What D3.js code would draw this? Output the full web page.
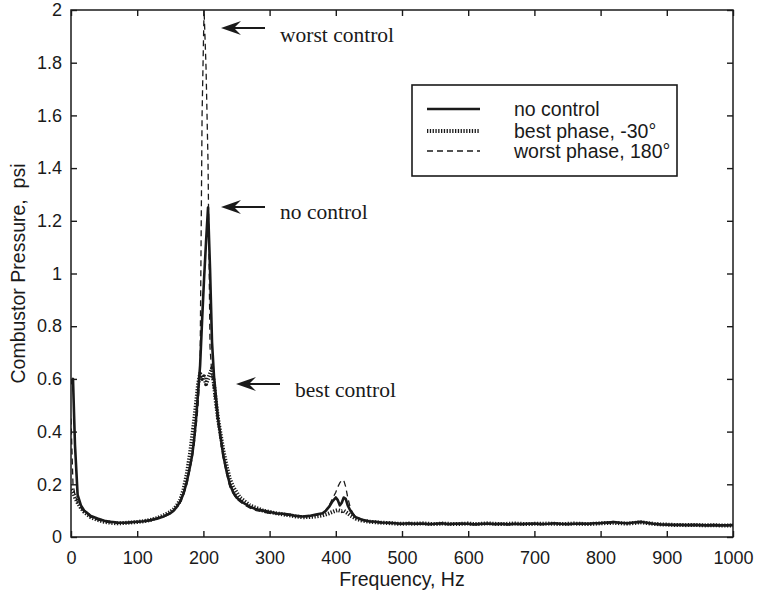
<!DOCTYPE html>
<html><head><meta charset="utf-8">
<script src="https://cdn.jsdelivr.net/npm/d3@7"></script>
<style>body{margin:0;background:#fff}svg{display:block}</style>
</head><body>
<svg id="c" width="757" height="596"></svg>
<script>
const frequency = [
  0,3,6,10,15,20,25,30,40,50,60,70,80,90,100,110,120,130,140,150,
  155,160,165,170,175,180,183,186,189,192,195,198,201,204,207,210,213,216,219,222,226,230,235,240,245,250,
  255,260,270,280,290,300,310,320,330,340,350,360,370,380,385,390,395,400,403,406,409,412,415,418,422,426,430,435,440,450,460,470,480,490,500,
  510,520,530,540,550,560,570,580,590,600,
  610,620,630,640,650,660,670,680,690,700,
  710,720,730,740,750,760,770,780,790,800,
  810,820,830,840,850,860,870,880,890,900,
  910,920,930,940,950,960,970,980,990,1000
];
const noControl = [
  0.58,0.60,0.35,0.16,0.12,0.10,0.09,0.08,0.07,0.062,0.058,0.055,0.054,0.056,0.058,0.06,0.064,0.07,0.078,0.09,
  0.10,0.115,0.135,0.165,0.21,0.27,0.31,0.37,0.45,0.55,0.65,0.82,0.98,1.12,1.25,1.02,0.74,0.61,0.53,0.45,0.38,0.31,0.25,0.20,0.17,0.15,
  0.14,0.13,0.115,0.105,0.10,0.095,0.09,0.088,0.085,0.08,0.078,0.08,0.085,0.09,0.10,0.115,0.135,0.15,0.14,0.12,0.13,0.15,0.145,0.12,0.10,0.085,0.075,0.07,0.065,0.06,0.058,0.055,0.054,0.052,0.05,
  0.052,0.050,0.051,0.049,0.050,0.052,0.049,0.050,0.051,0.050,
  0.048,0.050,0.051,0.049,0.050,0.048,0.050,0.049,0.050,0.051,
  0.049,0.050,0.052,0.050,0.049,0.050,0.051,0.050,0.052,0.053,
  0.055,0.057,0.054,0.052,0.055,0.058,0.054,0.050,0.048,0.047,
  0.046,0.046,0.045,0.046,0.045,0.044,0.045,0.044,0.044,0.045
];
const bestPhase = [
  0.18,0.17,0.15,0.13,0.11,0.095,0.085,0.075,0.065,0.058,0.054,0.052,0.053,0.055,0.057,0.06,0.065,0.072,0.082,0.095,
  0.105,0.12,0.14,0.18,0.24,0.32,0.38,0.44,0.51,0.58,0.62,0.60,0.61,0.58,0.60,0.62,0.64,0.58,0.51,0.45,0.39,0.33,0.27,0.22,0.19,0.17,
  0.15,0.14,0.12,0.11,0.10,0.095,0.09,0.086,0.082,0.078,0.075,0.076,0.078,0.082,0.086,0.09,0.095,0.10,0.102,0.10,0.098,0.10,0.095,0.09,0.082,0.076,0.07,0.066,0.062,0.058,0.056,0.054,0.053,0.051,0.05,
  0.051,0.050,0.052,0.050,0.049,0.051,0.050,0.049,0.050,0.051,
  0.049,0.050,0.052,0.050,0.049,0.050,0.051,0.050,0.049,0.050,
  0.050,0.051,0.050,0.049,0.050,0.051,0.050,0.049,0.050,0.052,
  0.053,0.054,0.052,0.051,0.053,0.056,0.053,0.050,0.048,0.047,
  0.046,0.046,0.045,0.046,0.045,0.044,0.045,0.044,0.044,0.044
];
const worstPhase = [
  0.45,0.20,0.16,0.13,0.11,0.095,0.085,0.075,0.065,0.058,0.054,0.052,0.052,0.054,0.056,0.058,0.062,0.068,0.076,0.088,
  0.10,0.115,0.13,0.16,0.20,0.26,0.30,0.35,0.42,0.50,0.64,1.60,2.00,1.78,1.42,0.72,0.61,0.55,0.49,0.43,0.36,0.30,0.24,0.19,0.165,0.145,
  0.135,0.125,0.11,0.10,0.095,0.09,0.088,0.085,0.082,0.078,0.076,0.078,0.082,0.09,0.10,0.12,0.145,0.17,0.19,0.205,0.215,0.215,0.19,0.15,0.11,0.09,0.078,0.07,0.064,0.058,0.055,0.053,0.052,0.05,0.049,
  0.050,0.049,0.050,0.048,0.049,0.050,0.048,0.049,0.050,0.048,
  0.047,0.049,0.050,0.048,0.049,0.047,0.049,0.048,0.049,0.050,
  0.048,0.049,0.050,0.049,0.048,0.049,0.050,0.049,0.050,0.051,
  0.052,0.054,0.052,0.050,0.053,0.055,0.052,0.049,0.047,0.046,
  0.045,0.045,0.044,0.045,0.044,0.043,0.044,0.043,0.043,0.044
];
const xTicks = [0,100,200,300,400,500,600,700,800,900,1000];
const yTicks = [0,0.2,0.4,0.6,0.8,1,1.2,1.4,1.6,1.8,2];
const seriesNames = ["no control","best phase, -30\u00b0","worst phase, 180\u00b0"];
const annotations = [
  {text:"worst control", value:1.95},
  {text:"no control", value:1.25},
  {text:"best control", value:0.6}
];

const svg = d3.select("#c");
const L = 71, R = 733, T = 10, B = 537;
const x = d3.scaleLinear().domain([0,1000]).range([L,R]);
const y = d3.scaleLinear().domain([0,2]).range([B,T]);
const ink = "#1a1a1a";
const sans = "'Liberation Sans', Arial, Helvetica, sans-serif";
const serif = "'Liberation Serif', 'Times New Roman', serif";

svg.append("defs").append("clipPath").attr("id","clip")
  .append("rect").attr("x",L).attr("y",T).attr("width",R-L).attr("height",B-T);

const styles = [
  {w:2.6, dash:null},
  {w:4, dash:"1.3,1.5"},
  {w:1.3, dash:"6,4"}
];
const data = [noControl, bestPhase, worstPhase];
const line = d3.line().x(d=>x(d[0])).y(d=>y(d[1]));
const g = svg.append("g").attr("clip-path","url(#clip)");
[1,2,0].forEach(i=>{
  g.append("path")
    .datum(frequency.map((f,k)=>[f,data[i][k]]))
    .attr("d",line).attr("fill","none").attr("stroke",ink)
    .attr("stroke-width",styles[i].w)
    .attr("stroke-linejoin","round")
    .attr("stroke-dasharray",styles[i].dash);
});

// axes (box with inward ticks)
const tl = 6;
const axB = svg.append("g").attr("transform",`translate(0,${B})`)
  .call(d3.axisBottom(x).tickValues(xTicks).tickSize(-tl).tickPadding(14).tickFormat(d3.format("d")));
const axT = svg.append("g").attr("transform",`translate(0,${T})`)
  .call(d3.axisTop(x).tickValues(xTicks).tickSize(-tl).tickFormat(""));
const axL = svg.append("g").attr("transform",`translate(${L},0)`)
  .call(d3.axisLeft(y).tickValues(yTicks).tickSize(-tl).tickPadding(9).tickFormat(d=>d3.format("~g")(d)));
const axR = svg.append("g").attr("transform",`translate(${R},0)`)
  .call(d3.axisRight(y).tickValues(yTicks).tickSize(-tl).tickFormat(""));
[axB,axT,axL,axR].forEach(a=>{
  a.selectAll("path,line").attr("stroke",ink).attr("stroke-width",1.4);
  a.select(".domain").attr("d", null);
  a.selectAll("text").attr("fill",ink).style("font-family",sans).style("font-size","18px");
});
svg.append("rect").attr("x",L).attr("y",T).attr("width",R-L).attr("height",B-T)
  .attr("fill","none").attr("stroke",ink).attr("stroke-width",1.5);

// axis labels
svg.append("text").attr("x",(L+R)/2).attr("y",586).attr("text-anchor","middle")
  .style("font-family",sans).style("font-size","19.5px").attr("fill",ink).text("Frequency, Hz");
svg.append("text").attr("transform",`translate(25,${(T+B)/2}) rotate(-90)`).attr("text-anchor","middle")
  .style("font-family",sans).style("font-size","19.5px").attr("fill",ink)
  .attr("xml:space","preserve").style("white-space","pre").text("Combustor Pressure,  psi");

// legend
const lg = svg.append("g");
lg.append("rect").attr("x",412).attr("y",85).attr("width",265).attr("height",91)
  .attr("fill","#fff").attr("stroke",ink).attr("stroke-width",1.6);
const rowY = [109,131,151];
seriesNames.forEach((n,i)=>{
  lg.append("line").attr("x1",427).attr("x2",480).attr("y1",rowY[i]).attr("y2",rowY[i])
    .attr("stroke",ink).attr("stroke-width",i===1?4:styles[i].w).attr("stroke-dasharray",styles[i].dash);
  lg.append("text").attr("x",514).attr("y",rowY[i]+7).style("font-family",sans).style("font-size","19.5px")
    .attr("fill",ink).text(n);
});

// annotations with arrows
const annX = [[221,265,280],[221,265,280],[236,280,295]];
const annY = [28,207,384];
const annBase = [42,219,397];
annotations.forEach((a,i)=>{
  const tip = annX[i][0], tail = annX[i][1], yy = annY[i];
  svg.append("line").attr("x1",tip+10).attr("x2",tail).attr("y1",yy).attr("y2",yy)
    .attr("stroke",ink).attr("stroke-width",2);
  svg.append("path").attr("d",`M${tip},${yy} L${tip+20},${yy-7} L${tip+13},${yy} L${tip+20},${yy+7} Z`)
    .attr("fill",ink);
  svg.append("text").attr("x",annX[i][2]).attr("y",annBase[i])
    .style("font-family",serif).style("font-size","21.5px").attr("fill",ink).text(a.text);
});
</script>
</body></html>
